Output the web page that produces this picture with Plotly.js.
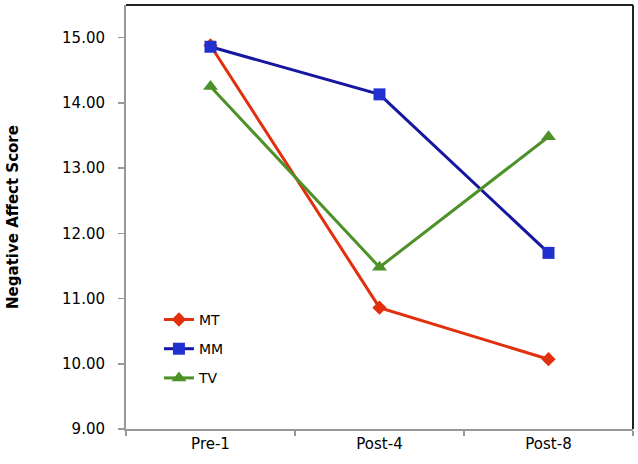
<!DOCTYPE html>
<html>
<head>
<meta charset="utf-8">
<script src="https://cdn.plot.ly/plotly-3.0.1.min.js"></script>
<style>html,body{margin:0;padding:0;background:#fff;}#chart{width:638px;height:464px;}</style>
</head>
<body>
<div id="chart"></div>
<script>
const categories = ["Pre-1", "Post-4", "Post-8"];
const mtValues = [14.88, 10.86, 10.07];
const mmValues = [14.86, 14.13, 11.70];
const tvValues = [14.25, 11.48, 13.48];
const yTickValues = [9, 10, 11, 12, 13, 14, 15];
const yTickLabels = ["9.00", "10.00", "11.00", "12.00", "13.00", "14.00", "15.00"];

const font = "'DejaVu Sans', sans-serif";

const traces = [
  {x: categories, y: mtValues, name: "MT", legendgroup: "a", mode: "lines+markers",
   line: {color: "#e2300f", width: 3}, marker: {symbol: "diamond", size: 11, color: "#e2300f"}},
  {x: categories, y: mmValues, name: "MM", legendgroup: "b", mode: "lines+markers",
   line: {color: "#1616a0", width: 3}, marker: {symbol: "square", size: 12, color: "#2230d0"}},
  {x: categories, y: tvValues, name: "TV", legendgroup: "c", mode: "lines+markers",
   line: {color: "#4d9128", width: 3}, marker: {symbol: "triangle-up", size: 13, color: "#4d9128"}}
];

const layout = {
  width: 638, height: 464,
  margin: {l: 126, r: 5, t: 5, b: 35},
  paper_bgcolor: "#fff", plot_bgcolor: "#fff",
  font: {family: font, color: "#000", size: 15},
  showlegend: true,
  legend: {x: 0.065, y: 0.295, xanchor: "left", yanchor: "top", bgcolor: "rgba(0,0,0,0)",
           font: {family: font, size: 14, color: "#000"}, traceorder: "grouped", tracegroupgap: 8},
  xaxis: {type: "category", categoryorder: "array", categoryarray: categories,
          range: [-0.5, 2.5], tickson: "boundaries", ticks: "outside", ticklen: 5,
          tickcolor: "#999", tickwidth: 1.5, showline: true, linecolor: "#999", linewidth: 2,
          showgrid: false, zeroline: false, tickfont: {family: font, size: 15}},
  yaxis: {range: [9, 15.5], tickmode: "array", tickvals: yTickValues, ticktext: yTickLabels,
          ticks: "outside", ticklen: 6, tickcolor: "#999", tickwidth: 1.5,
          showline: true, linecolor: "#999", linewidth: 2, showgrid: false, zeroline: false,
          tickfont: {family: font, size: 15}, ticklabelstandoff: 10,
          title: {text: "<b>Negative Affect Score</b>", font: {family: font, size: 15}, standoff: 40}},
  shapes: [
    {type: "line", xref: "paper", yref: "paper", x0: 0, x1: 1, y0: 1, y1: 1, line: {color: "#222", width: 2}},
    {type: "line", xref: "paper", yref: "paper", x0: 1, x1: 1, y0: 0, y1: 1, line: {color: "#222", width: 2}}
  ]
};

Plotly.newPlot("chart", traces, layout, {displayModeBar: false, staticPlot: true});
</script>
</body>
</html>
